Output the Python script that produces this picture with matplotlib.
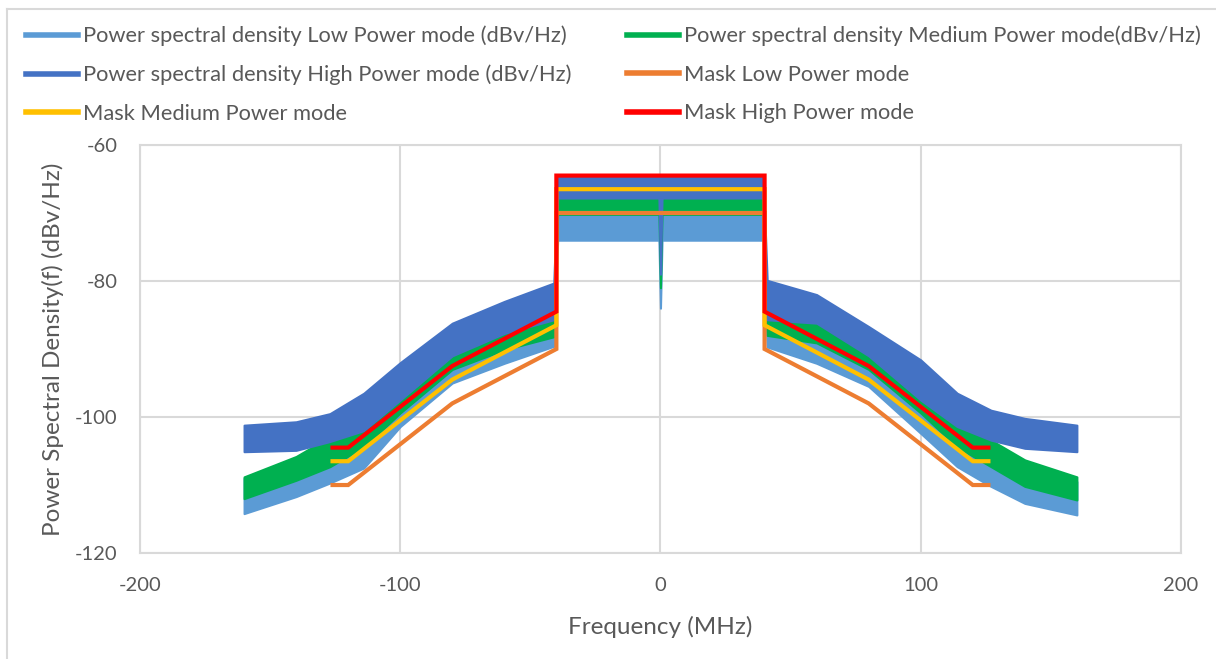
import matplotlib
matplotlib.use("Agg")
import matplotlib.pyplot as plt
from matplotlib.lines import Line2D

plt.rcParams['font.family'] = ['Lato', 'DejaVu Sans']
plt.rcParams['axes.unicode_minus'] = False

# PSD bands (lower / upper edge of the noisy trace), dBv/Hz
psd_freq = [-160, -140, -127, -114, -100, -80, -60, -41, -39.5,
            -0.6, 0, 0.6, 39.5, 41, 60, 80, 100, 114, 127, 140, 160]

low_lo = [-114.2, -111.7, -109.7, -107.5, -101.4, -95.0, -92.1, -89.6, -74.0,
          -74.0, -84.0, -74.0, -74.0, -89.7, -92.1, -95.5, -102.4, -107.3, -110.2, -112.7, -114.4]
low_hi = [-109.0, -106.5, -104.5, -102.0, -97.5, -91.6, -88.7, -86.2, -69.5,
          -69.5, -69.5, -69.5, -69.5, -85.7, -88.5, -92.0, -98.0, -102.5, -105.0, -107.5, -109.5]

med_lo = [-112.0, -109.3, -107.3, -104.4, -99.4, -93.0, -90.1, -88.2, -70.2,
          -70.2, -81.0, -70.2, -70.2, -88.0, -89.1, -93.0, -99.4, -104.4, -107.3, -110.2, -112.2]
med_hi = [-108.8, -105.8, -102.9, -100.0, -96.0, -89.6, -86.7, -84.3, -67.8,
          -67.8, -67.8, -67.8, -67.8, -84.3, -85.0, -89.4, -95.5, -100.4, -103.4, -106.3, -108.8]

high_lo = [-105.1, -104.9, -103.6, -102.0, -97.5, -91.0, -87.7, -85.7, -67.8,
           -67.8, -79.0, -67.8, -67.8, -85.7, -86.2, -91.0, -97.5, -101.4, -103.4, -104.6, -105.1]
high_hi = [-101.2, -100.7, -99.5, -96.5, -92.0, -86.2, -83.0, -80.3, -64.7,
           -64.7, -64.7, -64.7, -64.7, -79.9, -82.0, -86.7, -91.6, -96.5, -99.0, -100.2, -101.2]

# spectral masks
mask_freq = [-126, -120, -80, -40, -40, 40, 40, 80, 120, 126]
mask_low = [-110, -110, -98, -90, -70, -70, -90, -98, -110, -110]
mask_med = [-106.5, -106.5, -94.5, -86.5, -66.5, -66.5, -86.5, -94.5, -106.5, -106.5]
mask_high = [-104.5, -104.5, -92.5, -84.5, -64.5, -64.5, -84.5, -92.5, -104.5, -104.5]

labels = ['Power spectral density Low Power mode (dBv/Hz)',
          'Power spectral density Medium Power mode(dBv/Hz)',
          'Power spectral density High Power mode (dBv/Hz)',
          'Mask Low Power mode',
          'Mask Medium Power mode',
          'Mask High Power mode']
colors = ['#5B9BD5', '#00B050', '#4472C4', '#ED7D31', '#FFC000', '#FF0000']

text_col = '#595959'
grid_col = '#D9D9D9'

fig = plt.figure(figsize=(12.16, 6.59), dpi=100)
ax = fig.add_axes([0.1151, 0.1608, 0.8561, 0.6192])

bands = [(low_lo, low_hi), (med_lo, med_hi), (high_lo, high_hi)]
for (lo, hi), c in zip(bands, colors[:3]):
    ax.fill_between(psd_freq, lo, hi, color=c, linewidth=1.5, edgecolor=c, zorder=2)

for m, c in zip([mask_low, mask_med, mask_high], colors[3:]):
    ax.plot(mask_freq, m, color=c, linewidth=3, solid_joinstyle='miter', zorder=3)

ax.set_xlim(-200, 200)
ax.set_ylim(-120, -60)
ax.set_xticks([-200, -100, 0, 100, 200])
ax.set_yticks([-120, -100, -80, -60])
ax.grid(True, color=grid_col, linewidth=1.5)
ax.set_axisbelow(True)
for s in ax.spines.values():
    s.set_color(grid_col)
    s.set_linewidth(1.5)
ax.tick_params(length=0, labelsize=14.5, labelcolor=text_col)
ax.tick_params(axis='y', pad=16)
ax.tick_params(axis='x', pad=17)
ax.set_xlabel('Frequency (MHz)', fontsize=17.5, color=text_col, labelpad=16)
ax.set_ylabel('Power Spectral Density(f) (dBv/Hz)', fontsize=17.5, color=text_col, labelpad=8)

handles = [Line2D([], [], color=c, linewidth=4) for c in colors]
order = [0, 2, 4, 1, 3, 5]
fig.legend([handles[i] for i in order], [labels[i] for i in order],
           loc='upper left', bbox_to_anchor=(0.014, 0.974), ncol=2,
           frameon=False, fontsize=15.75, labelcolor=text_col,
           handlelength=2.4, handletextpad=0.2, columnspacing=2.55,
           labelspacing=0.84, borderaxespad=0)

# chart area border (left and top edges visible in the crop)
fig.add_artist(Line2D([0.006, 0.006], [0, 0.986], transform=fig.transFigure,
                      color=grid_col, linewidth=1.5))
fig.add_artist(Line2D([0.006, 1], [0.986, 0.986], transform=fig.transFigure,
                      color=grid_col, linewidth=1.5))

fig.savefig('out.png', dpi=100)
